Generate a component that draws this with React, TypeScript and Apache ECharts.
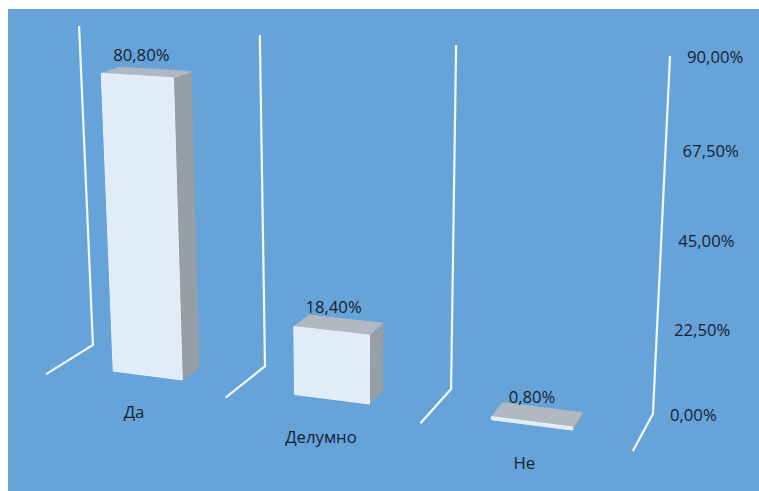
import React, { useEffect, useRef } from "react";
import * as echarts from "echarts";

// Survey answers and their shares, in percent
const categories = ["Да", "Делумно", "Не"];
const shares = [80.8, 18.4, 0.8];
const dataLabels = ["80,80%", "18,40%", "0,80%"];

// Value axis
const axisMax = 90;
const axisStep = 22.5;
const tickValues = [0, 22.5, 45, 67.5, 90];
const tickLabels = ["0,00%", "22,50%", "45,00%", "67,50%", "90,00%"];

const wallIndexes = [0, 1, 2, 3];

const CHART_W = 751;
const CHART_H = 482;
const GRID = { left: 60, top: 40, width: 600, height: 400 };
const BAND = GRID.width / categories.length;

// Box footprint inside a category band: across the band and front to back
const BOX_U = [0.3, 0.69];
const BOX_Z = [0.32, 0.72];

const TEXT_COLOR = "#17222e";
const FONT = '16.7px "Open Sans", sans-serif';

// Scene reference points: [wall index, value share of the axis, depth, screen x, screen y]
const calibration: number[][] = [
  [0, 1, 1, 71, 17], [0, 0, 1, 85, 336], [0, 0, 0, 38, 365],
  [1, 1, 1, 252, 26], [1, 0, 1, 257, 357], [1, 0, 0, 218, 389],
  [2, 1, 1, 448, 36], [2, 0, 1, 443, 380], [2, 0, 0, 412, 414],
  [3, 1, 1, 662, 47], [3, 0, 1, 645, 405], [3, 0, 0, 625, 442],
];

// Least-squares fit of an 11-parameter perspective camera
function fitCamera(points: number[][]): number[] {
  const n = 11;
  const A: number[][] = Array.from({ length: n }, () => new Array(n + 1).fill(0));
  const accumulate = (row: number[], rhs: number) => {
    for (let i = 0; i < n; i++) {
      for (let j = 0; j < n; j++) A[i][j] += row[i] * row[j];
      A[i][n] += row[i] * rhs;
    }
  };
  for (const [X, Y, Z, sx, sy] of points) {
    const u = sx / 500;
    const v = sy / 500;
    accumulate([X, Y, Z, 1, 0, 0, 0, 0, -u * X, -u * Y, -u * Z], u);
    accumulate([0, 0, 0, 0, X, Y, Z, 1, -v * X, -v * Y, -v * Z], v);
  }
  for (let c = 0; c < n; c++) {
    let pivot = c;
    for (let r = c + 1; r < n; r++) if (Math.abs(A[r][c]) > Math.abs(A[pivot][c])) pivot = r;
    [A[c], A[pivot]] = [A[pivot], A[c]];
    for (let r = 0; r < n; r++) {
      if (r === c) continue;
      const f = A[r][c] / A[c][c];
      for (let k = c; k <= n; k++) A[r][k] -= f * A[c][k];
    }
  }
  return A.map((row, i) => row[n] / row[i]);
}

const camera = fitCamera(calibration);

// Flat plot position (from the axes) plus a depth, to a point on screen
function project(gx: number, gy: number, depth: number): number[] {
  const X = (gx - GRID.left) / BAND;
  const Y = (GRID.top + GRID.height - gy) / GRID.height;
  const p = camera;
  const w = p[8] * X + p[9] * Y + p[10] * depth + 1;
  return [
    (500 * (p[0] * X + p[1] * Y + p[2] * depth + p[3])) / w,
    (500 * (p[4] * X + p[5] * Y + p[6] * depth + p[7])) / w,
  ];
}

const textEl = (text: string, x: number, y: number, align: string) => ({
  type: "text",
  silent: true,
  style: { text, x, y, fill: TEXT_COLOR, font: FONT, textAlign: align, textVerticalAlign: "middle" },
});

function renderWall(_: any, api: any) {
  const w = api.value(0);
  const gx = api.coord([0, 0])[0] + (w - 0.5) * BAND;
  const y0 = api.coord([0, 0])[1];
  const y1 = api.coord([0, axisMax])[1];
  return {
    type: "polyline",
    silent: true,
    shape: { points: [project(gx, y1, 1), project(gx, y0, 1), project(gx, y0, 0)] },
    style: { stroke: "#f4f8fc", lineWidth: 2.2, fill: "none" },
  };
}

function renderBox(_: any, api: any) {
  const i = api.value(0);
  const v = api.value(1);
  const [cx, y1] = api.coord([i, v]);
  const y0 = api.coord([i, 0])[1];
  const xl = cx - BAND / 2 + BOX_U[0] * BAND;
  const xr = cx - BAND / 2 + BOX_U[1] * BAND;
  const [zf, zb] = BOX_Z;
  const face = (points: number[][], fill: string, stroke: string) => ({
    type: "polygon",
    silent: true,
    shape: { points },
    style: { fill, stroke, lineWidth: 1 },
  });
  const topCentre = project(cx - BAND / 2 + 0.495 * BAND, y1, (zf + zb) / 2);
  return {
    type: "group",
    children: [
      face(
        [project(xr, y0, zf), project(xr, y0, zb), project(xr, y1, zb), project(xr, y1, zf)],
        "#969ea6",
        "#969ea6"
      ),
      face(
        [project(xl, y1, zf), project(xr, y1, zf), project(xr, y1, zb), project(xl, y1, zb)],
        "#b1b8c1",
        "#b1b8c1"
      ),
      face(
        [project(xl, y0, zf), project(xr, y0, zf), project(xr, y1, zf), project(xl, y1, zf)],
        "#e0ecf8",
        "#e9f2fb"
      ),
      textEl(dataLabels[i], topCentre[0] - 5, topCentre[1] - 18, "center"),
    ],
  };
}

function renderCategoryLabel(_: any, api: any) {
  const i = api.value(0);
  const [cx, y0] = api.coord([i, 0]);
  const p = project(cx, y0, 0);
  return textEl(categories[i], p[0], p[1] + 26, "center");
}

function renderTickLabel(param: any, api: any) {
  const v = api.value(1);
  const gx = api.coord([0, 0])[0] + (categories.length - 0.5) * BAND;
  const p = project(gx, api.coord([0, v])[1], 1);
  return textEl(tickLabels[param.dataIndex], p[0] + 17, p[1] + 1, "left");
}

export default function App() {
  const ref = useRef<HTMLDivElement>(null);
  useEffect(() => {
    const chart = echarts.init(ref.current!, undefined, { renderer: "svg" });
    chart.setOption({
      animation: false,
      backgroundColor: "#66a3d9",
      grid: GRID,
      xAxis: { type: "category", data: categories, show: false },
      yAxis: { type: "value", min: 0, max: axisMax, interval: axisStep, show: false },
      series: [
        { type: "custom", clip: false, data: wallIndexes.map((w) => [w, 0]), renderItem: renderWall },
        { type: "custom", clip: false, data: shares.map((s, i) => [i, s]), renderItem: renderBox },
        { type: "custom", clip: false, data: categories.map((_, i) => [i, 0]), renderItem: renderCategoryLabel },
        { type: "custom", clip: false, data: tickValues.map((t) => [0, t]), renderItem: renderTickLabel },
      ],
    });
    return () => chart.dispose();
  }, []);
  return (
    <div
      ref={ref}
      style={{ position: "absolute", left: 8, top: 9, width: CHART_W, height: CHART_H }}
    />
  );
}
